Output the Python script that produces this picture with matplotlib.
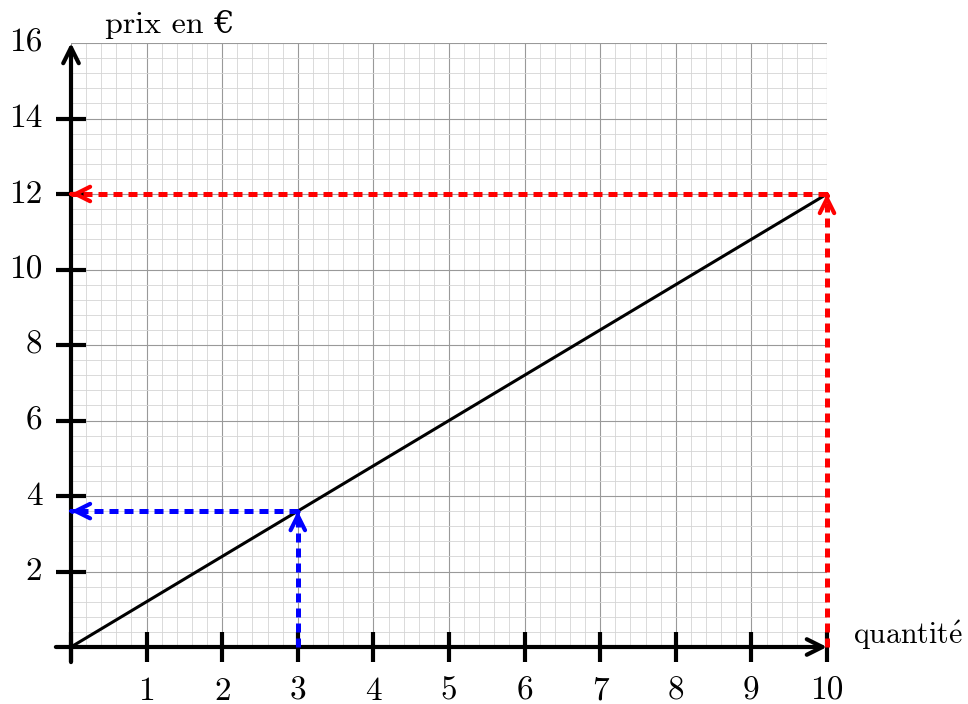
import matplotlib.pyplot as plt
import numpy as np

plt.rcParams['font.family'] = ['cmr10', 'DejaVu Serif']
plt.rcParams['mathtext.fontset'] = 'cm'

# donnees
quantite = [0, 10]
prix = [0, 12]
pt_bleu = (3, 3.6)
pt_rouge = (10, 12)
xticks = list(range(0, 11))
yticks = list(range(2, 17, 2))

fig = plt.figure(figsize=(9.68, 7.04), dpi=100)
ax = fig.add_axes([71/968, 57/704, 756/968, 604/704])
ax.set_xlim(0, 10)
ax.set_ylim(0, 16)
for s in ax.spines.values():
    s.set_visible(False)
ax.set_xticks([])
ax.set_yticks([])

# quadrillage
for xv in np.arange(0, 10.01, 0.2):
    major = abs(xv - round(xv)) < 1e-6
    ax.plot([xv, xv], [0, 16], color='#999999' if major else '#d4d4d4',
            lw=0.8 if major else 0.6, zorder=1)
for yv in np.arange(0, 16.01, 0.4):
    major = abs(yv / 2 - round(yv / 2)) < 1e-6
    ax.plot([0, 10], [yv, yv], color='#999999' if major else '#d4d4d4',
            lw=0.8 if major else 0.6, zorder=1)

# axes avec fleches
ax.annotate('', xy=(10, 0), xytext=(-0.2, 0),
            arrowprops=dict(arrowstyle='->', lw=3, color='black', mutation_scale=28,
                            shrinkA=0, shrinkB=0), annotation_clip=False, zorder=5)
ax.annotate('', xy=(0, 16), xytext=(0, -0.4),
            arrowprops=dict(arrowstyle='->', lw=3, color='black', mutation_scale=28,
                            shrinkA=0, shrinkB=0), annotation_clip=False, zorder=5)

for t in xticks:
    ax.plot([t, t], [-0.4, 0.4], color='black', lw=3, clip_on=False, zorder=5, solid_capstyle='butt')
    if t > 0:
        ax.text(t, -1.17, str(t), ha='center', va='center', fontsize=24)
for t in yticks:
    if t < 16:
        ax.plot([-0.2, 0.2], [t, t], color='black', lw=3, clip_on=False, zorder=5, solid_capstyle='butt')
    ax.text(-0.38, t, str(t), ha='right', va='center', fontsize=24)

ax.text(0.45, 16.5, 'prix en €', ha='left', va='center', fontsize=23)
ax.text(10.34, 0.32, r'$\mathrm{quantit\acute{e}}$', ha='left', va='center', fontsize=21.5)

# droite
ax.plot(quantite, prix, color='black', lw=2.2, zorder=4, clip_on=False)

# lectures graphiques
for (px, py), c in [(pt_bleu, 'blue'), (pt_rouge, 'red')]:
    ax.plot([px, px], [0, py], color=c, lw=3.6, dashes=(1.8, 1.2), zorder=6,
            clip_on=False, dash_capstyle='butt')
    ax.plot([px, 0], [py, py], color=c, lw=3.6, dashes=(1.8, 1.2), zorder=6,
            clip_on=False, dash_capstyle='butt')
    ax.annotate('', xy=(px, py), xytext=(px, py - 0.02),
                arrowprops=dict(arrowstyle='->', lw=3, color=c, mutation_scale=26,
                                shrinkA=0, shrinkB=0),
                annotation_clip=False, zorder=7)
    ax.annotate('', xy=(0, py), xytext=(0.01, py),
                arrowprops=dict(arrowstyle='->', lw=3, color=c, mutation_scale=26,
                                shrinkA=0, shrinkB=0),
                annotation_clip=False, zorder=7)

fig.savefig('out.png', dpi=100)
